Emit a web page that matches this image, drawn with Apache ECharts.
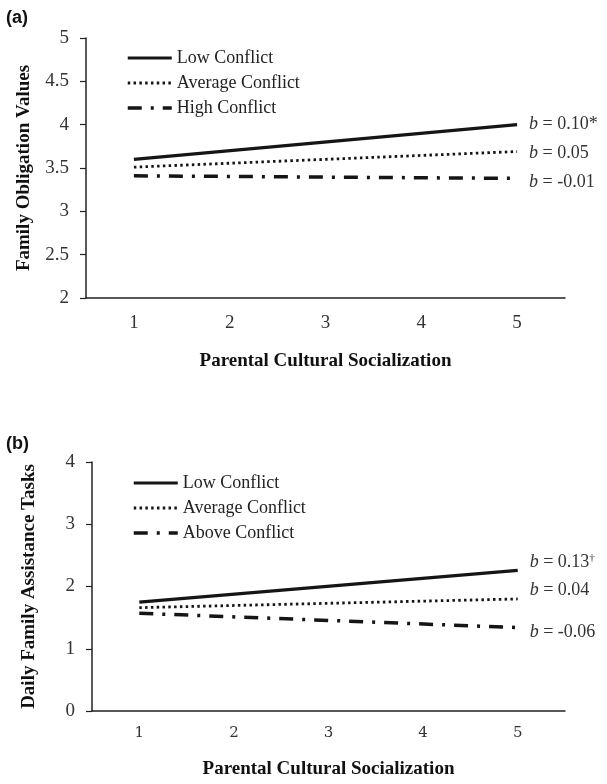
<!DOCTYPE html>
<html>
<head>
<meta charset="utf-8">
<script src="https://cdn.jsdelivr.net/npm/echarts@6/dist/echarts.min.js"></script>
<style>
  html, body { margin: 0; padding: 0; background: #fff; }
  #a, #b { width: 607px; height: 392px; }
</style>
</head>
<body>
<div id="a"></div>
<div id="b"></div>
<script>
// ---- data ----
const categories = ['1', '2', '3', '4', '5'];
const xTitle = 'Parental Cultural Socialization';

const aTitle = 'Family Obligation Values';
const aNames = ['Low Conflict', 'Average Conflict', 'High Conflict'];
const aLow = [3.60, null, null, null, 4.00];
const aAvg = [3.51, null, null, null, 3.69];
const aHigh = [3.41, null, null, null, 3.38];
const aSlopes = ['0.10*', '0.05', '-0.01'];

const bTitle = 'Daily Family Assistance Tasks';
const bNames = ['Low Conflict', 'Average Conflict', 'Above Conflict'];
const bLow = [1.75, null, null, null, 2.26];
const bAvg = [1.66, null, null, null, 1.80];
const bAbove = [1.57, null, null, null, 1.34];
const bSlopes = ['0.13', '0.04', '-0.06'];
const bSlopeMarks = ['†', '', ''];

// ---- styles ----
const SERIF = '"Liberation Serif", "Times New Roman", serif';
const INK = '#151515';
const styles = [
  { type: 'solid', width: 3.2 },
  { type: [2.5, 3.3], width: 2.8 },
  { type: [14, 9, 3, 9], width: 3.5 }
];

function makeSeries(names, datas, slopes, marks, offsets) {
  return datas.map((d, i) => ({
    name: names[i],
    type: 'line',
    data: d,
    connectNulls: true,
    symbol: 'none',
    silent: true,
    animation: false,
    color: INK,
    itemStyle: { color: INK },
    lineStyle: { color: INK, width: styles[i].width, type: styles[i].type },
    endLabel: {
      show: true,
      distance: 12,
      offset: [0, offsets[i]],
      formatter: () => '{i|b} = ' + slopes[i] + (marks && marks[i] ? '{s|' + marks[i] + '}' : ''),
      fontFamily: SERIF,
      fontSize: 18,
      color: '#333',
      rich: {
        i: { fontFamily: SERIF, fontSize: 18, fontStyle: 'italic', color: '#333' },
        s: { fontFamily: SERIF, fontSize: 11, color: '#333', verticalAlign: 'top', padding: [0, 0, 8, 0] }
      }
    }
  }));
}

function makeOption(cfg) {
  return {
    animation: false,
    grid: { left: cfg.left, right: 42, top: cfg.top, bottom: cfg.bottom, containLabel: false },
    legend: {
      orient: 'vertical',
      left: cfg.legendLeft,
      top: cfg.legendTop,
      padding: 0,
      itemWidth: 44,
      itemHeight: 18,
      itemGap: 7,
      selectedMode: false,
      itemStyle: { opacity: 0 },
      textStyle: { fontFamily: SERIF, fontSize: 18, color: '#222' },
      data: cfg.names.map((n, i) => ({
        name: n,
        itemStyle: { opacity: 0 },
        lineStyle: { color: INK, width: styles[i].width, type: styles[i].type }
      }))
    },
    xAxis: {
      type: 'category',
      data: categories,
      boundaryGap: true,
      name: xTitle,
      nameLocation: 'middle',
      nameGap: cfg.xNameGap,
      nameTextStyle: { fontFamily: SERIF, fontSize: 19, fontWeight: 'bold', color: '#111' },
      axisLine: { lineStyle: { color: '#222', width: 1.5 } },
      axisTick: { show: false },
      axisLabel: { margin: cfg.xLabelMargin, fontFamily: cfg.xLabelFont, fontSize: cfg.xLabelSize, color: '#333' },
      splitLine: { show: false }
    },
    yAxis: {
      type: 'value',
      min: cfg.min, max: cfg.max, interval: cfg.interval,
      name: cfg.yTitle,
      nameLocation: 'middle',
      nameGap: cfg.yNameGap,
      nameTextStyle: { fontFamily: SERIF, fontSize: 19, fontWeight: 'bold', color: '#111' },
      axisLine: { show: true, lineStyle: { color: '#222', width: 1.5 } },
      axisTick: { show: true, length: 6, lineStyle: { color: '#222', width: 1.2 } },
      axisLabel: { margin: 17, fontFamily: SERIF, fontSize: 19, color: '#333' },
      splitLine: { show: false }
    },
    graphic: [{
      type: 'text', left: 6, top: cfg.tagTop,
      style: { text: cfg.tag, fontFamily: '"Liberation Sans", Arial, sans-serif', fontWeight: 'bold', fontSize: 18, fill: '#111' }
    }],
    series: cfg.series
  };
}

const chartA = echarts.init(document.getElementById('a'), null, { renderer: 'canvas' });
chartA.setOption(makeOption({
  left: 86, top: 38, bottom: 392 - 298,
  legendLeft: 126, legendTop: 49,
  names: aNames,
  xNameGap: 54, xLabelMargin: 16, xLabelFont: SERIF, xLabelSize: 19,
  min: 2, max: 5, interval: 0.5,
  yTitle: aTitle, yNameGap: 52,
  tag: '(a)', tagTop: 9,
  series: makeSeries(aNames, [aLow, aAvg, aHigh], aSlopes, null, [0, 2, 4])
}));

const chartB = echarts.init(document.getElementById('b'), null, { renderer: 'canvas' });
chartB.setOption(makeOption({
  left: 92, top: 462 - 392, bottom: 392 - 336,
  legendLeft: 132, legendTop: 82,
  names: bNames,
  xNameGap: 49, xLabelMargin: 15, xLabelFont: '"DejaVu Serif", serif', xLabelSize: 15,
  min: 0, max: 4, interval: 1,
  yTitle: bTitle, yNameGap: 53,
  tag: '(b)', tagTop: 43,
  series: makeSeries(bNames, [bLow, bAvg, bAbove], bSlopes, bSlopeMarks, [-8, -9, 5])
}));
</script>
</body>
</html>
